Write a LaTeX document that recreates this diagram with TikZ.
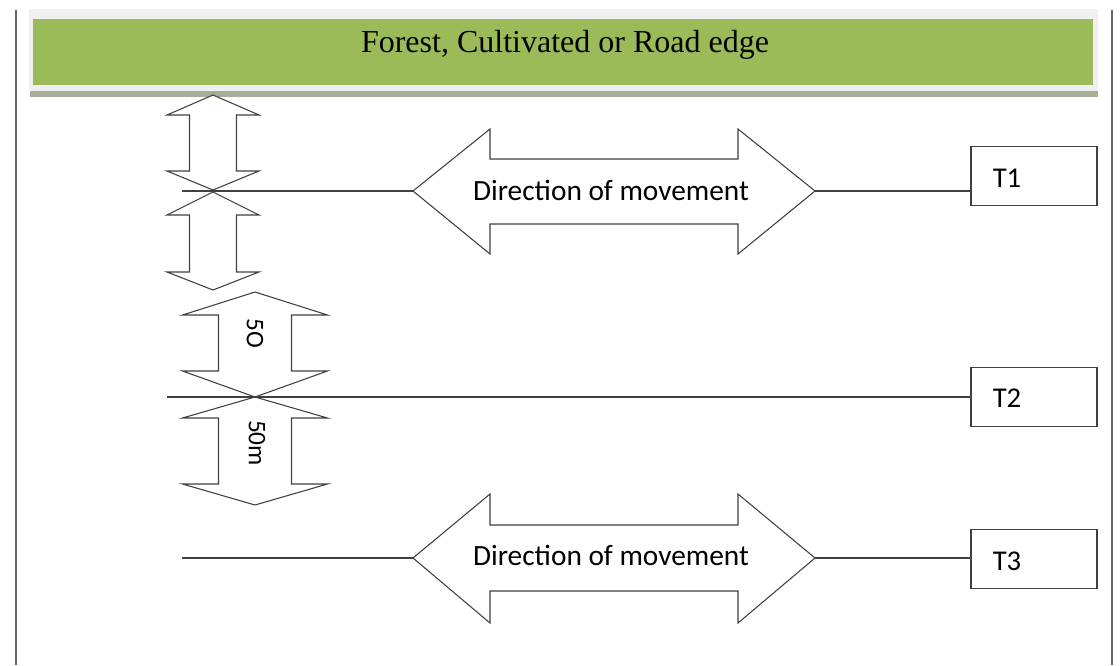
\documentclass[tikz,border=0pt]{standalone}
\usepackage{fontspec}
\setmainfont{Liberation Serif}
\newfontfamily\calfont{Carlito}
\definecolor{hdrgreen}{HTML}{9BBB59}
\definecolor{hdrframe}{HTML}{F0F0F2}
\definecolor{hdrshadow}{HTML}{A7AE95}
\definecolor{ink}{HTML}{404040}
\tikzset{
  shapeline/.style={draw=ink, line width=0.8pt, fill=white, line join=miter},
  conn/.style={draw=ink, line width=0.8pt},
  tbox/.style={draw=ink, line width=0.9pt, fill=white, minimum width=94.5pt, minimum height=44pt, inner sep=0pt},
  tlabel/.style={font=\calfont\fontsize{21.5}{25}\selectfont, inner sep=0pt},
  dirlabel/.style={font=\calfont\fontsize{22}{26}\selectfont, inner sep=0pt},
  distlabel/.style={font=\calfont\fontsize{19}{23}\selectfont, inner sep=0pt, rotate=-90},
}
\begin{document}
\begin{tikzpicture}[x=0.75pt,y=-0.75pt]
\useasboundingbox (0,0) rectangle (1120,665);
% frame lines
\coordinate (lt) at (16,10); \coordinate (lb) at (16,665);
\coordinate (rt) at (1112,10); \coordinate (rb) at (1112,665);
\draw[draw=ink!80, line width=0.8pt] (lt) -- (lb);
\draw[draw=ink!80, line width=0.8pt] (rt) -- (rb);
% header
\fill[hdrshadow] (30,88) rectangle (1098,97);
\fill[hdrframe] (29,9) rectangle (1098,91);
\node[fill=hdrgreen, minimum width=795pt, minimum height=50pt, inner sep=0pt] (hdr) at (563,52) {};
\node[font=\fontsize{24}{28}\selectfont, inner sep=0pt] (hdrtext) at (565,45) {Forest, Cultivated or Road edge};
% vertical double arrows (left column, T1)
\draw[shapeline] (213,95) -- (259,115) -- (236.5,115) -- (236.5,171) -- (259,171) -- (213,190)
  -- (167,171) -- (189.5,171) -- (189.5,115) -- (167,115) -- cycle;
\draw[shapeline] (213,192) -- (259,215) -- (236.5,215) -- (236.5,272) -- (259,272) -- (213,290)
  -- (167,272) -- (189.5,272) -- (189.5,215) -- (167,215) -- cycle;
% vertical double arrows (T2)
\draw[shapeline] (255,292) -- (327.5,315) -- (291.5,315) -- (291.5,371) -- (327.5,371) -- (255,397)
  -- (182.5,371) -- (218.5,371) -- (218.5,315) -- (182.5,315) -- cycle;
\draw[shapeline] (255,397) -- (327.5,418) -- (291.5,418) -- (291.5,484) -- (327.5,484) -- (255,505)
  -- (182.5,484) -- (218.5,484) -- (218.5,418) -- (182.5,418) -- cycle;
\node[distlabel] (l50) at (255,333) {5O};
\node[distlabel] (l50m) at (257,443) {50m};
% horizontal double arrows
\draw[shapeline] (413,191) -- (490,129) -- (490,159) -- (738,159) -- (738,129) -- (815,191)
  -- (738,254) -- (738,224) -- (490,224) -- (490,254) -- cycle;
\coordinate (a1l) at (413,191); \coordinate (a1r) at (815,191);
\node[dirlabel] (d1) at (611,190) {Direction of movement};
\draw[shapeline] (413,558) -- (490,494) -- (490,525) -- (738,525) -- (738,494) -- (815,558)
  -- (738,623) -- (738,591) -- (490,591) -- (490,623) -- cycle;
\coordinate (a3l) at (413,558); \coordinate (a3r) at (815,558);
\node[dirlabel] (d3) at (611,555) {Direction of movement};
% boxes
\node[tbox] (t1) at (1034,176) {};
\node[tlabel] (t1l) at (1007,178) {T1};
\node[tbox] (t2) at (1034,397) {};
\node[tlabel] (t2l) at (1007,398) {T2};
\node[tbox] (t3) at (1034,559) {};
\node[tlabel] (t3l) at (1007,561) {T3};
% connectors
\coordinate (s1) at (182,191);
\coordinate (s2) at (167,397);
\coordinate (s3) at (182,558);
\draw[conn] (s1) -- (a1l);
\draw[conn] (a1r) -- (t1.west |- a1r);
\draw[conn] (s2) -- (t2.west);
\draw[conn] (s3) -- (a3l);
\draw[conn] (a3r) -- (t3.west |- a3r);
\end{tikzpicture}
\end{document}
